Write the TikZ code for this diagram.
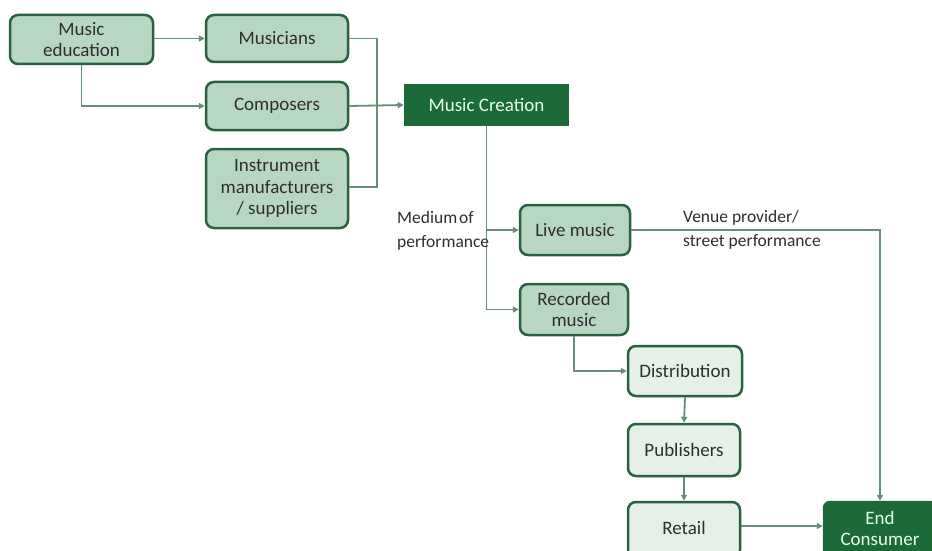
\documentclass[tikz,border=0pt]{standalone}
\usepackage{fontspec}
\setmainfont{Carlito}
\usetikzlibrary{arrows.meta}
\definecolor{midfill}{HTML}{B8D7C3}
\definecolor{lightfill}{HTML}{E4F0E8}
\definecolor{boxborder}{HTML}{2A6140}
\definecolor{darkbox}{HTML}{1C6A38}
\definecolor{linecol}{HTML}{648F75}
\definecolor{txt}{HTML}{2E2E2E}
\tikzset{
  base/.style={draw=boxborder, line width=2.5pt, rounded corners=8pt, align=center,
    font=\fontsize{19}{21.5}\selectfont, text=txt, inner sep=0pt},
  midbox/.style={base, fill=midfill},
  lightbox/.style={base, fill=lightfill},
  darkbox/.style={base, fill=darkbox, draw=darkbox, rounded corners=0pt, text=white!92!green},
  conn/.style={draw=linecol, line width=1.8pt, -{Triangle[length=6pt,width=6pt]}},
  plain/.style={draw=linecol, line width=1.8pt},
  lbl/.style={font=\fontsize{17.5}{24}\selectfont, text=txt, align=left, inner sep=0pt, anchor=west}
}
\begin{document}
\begin{tikzpicture}[x=1pt,y=-1pt]
\useasboundingbox (0,0) rectangle (932,551);
\begin{scope}
\clip (0,0) rectangle (932,551);
\node[midbox, minimum width=143pt, minimum height=49pt] (edu) at (81.5,39.5) {Music\\education};
\node[midbox, minimum width=142pt, minimum height=47pt] (mus) at (277,38.5) {Musicians};
\node[midbox, minimum width=142pt, minimum height=48pt] (comp) at (277,106) {Composers};
\node[midbox, minimum width=142pt, minimum height=79pt] (inst) at (277,188.5) {Instrument\\manufacturers\\/ suppliers};
\node[darkbox, minimum width=163pt, minimum height=40pt] (create) at (486.5,105) {Music Creation};
\node[midbox, minimum width=110pt, minimum height=50pt] (live) at (575,230) {Live music};
\node[midbox, minimum width=108pt, minimum height=51pt] (rec) at (574,309.5) {Recorded\\music};
\node[lightbox, minimum width=114pt, minimum height=50pt] (dist) at (685,371) {Distribution};
\node[lightbox, minimum width=112pt, minimum height=52pt] (pub) at (684,450) {Publishers};
\node[lightbox, minimum width=112pt, minimum height=56pt] (ret) at (684,530) {\raisebox{4pt}{Retail}};
\node[darkbox, rounded corners=6pt, minimum width=112pt, minimum height=60pt] (end) at (880,532) {End\\Consumer\rule[-7pt]{0pt}{1pt}};

\coordinate (j1) at (377,40);
\coordinate (j2) at (377,187);
\coordinate (jm) at (487,230);

\draw[conn] (edu.east |- mus) -- (mus.west);
\draw[conn] (edu.south) |- (comp.west);
\draw[plain] (mus.east) -- (mus.east -| j1) -- (j2) -- (inst.east |- j2);
\draw[conn] (comp.east) -- (create.west);
\draw[conn] (create.south) |- (rec.west);
\draw[conn] (jm) -- (live.west);
\draw[conn] (live.east) -| (end.north);
\draw[conn] (rec.south) |- (dist.west);
\draw[conn] (dist.south) -- (pub.north);
\draw[conn] (pub.south) -- (ret.north);
\draw[conn] (ret.east |- 0,526) -- (end.west |- 0,526);

\node[lbl] (medium) at (397,231) {Medium\hspace{2pt}of\\performance};
\node[lbl] (venue) at (683,230) {Venue provider/\\street performance};
\end{scope}
\end{tikzpicture}
\end{document}
